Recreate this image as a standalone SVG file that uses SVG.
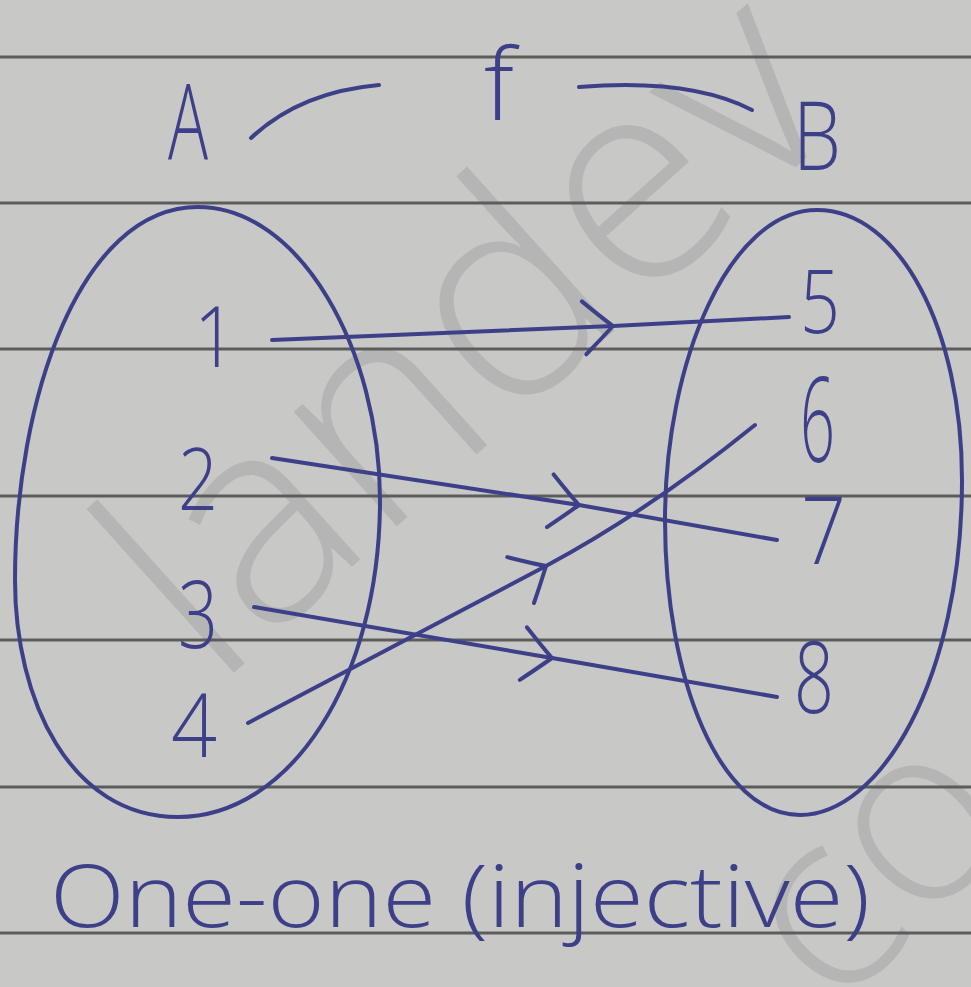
<svg xmlns="http://www.w3.org/2000/svg" width="971" height="987" viewBox="0 0 971 987">
<defs>
<style>
.paper{fill:#c8c8c7}
.rule{stroke:#5c5c5c;stroke-width:3;fill:none}
.ink{stroke:#3d4088;stroke-width:4;fill:none;stroke-linecap:round;stroke-linejoin:round}
.lbl{font-family:"Open Sans","Liberation Sans",sans-serif;font-weight:300;fill:#3d4088}
.wm{font-family:"Open Sans","Liberation Sans",sans-serif;font-weight:300;fill:#a4a4a4;opacity:0.5}
</style>
<marker id="chev" markerUnits="userSpaceOnUse" markerWidth="80" markerHeight="80" viewBox="-40 -40 80 80" refX="0" refY="0" orient="auto">
<path d="M -30 -26 Q -10 -8 0 0 Q -12 12 -28 27" fill="none" stroke="#3d4088" stroke-width="4" stroke-linecap="round"/>
</marker>
</defs>
<rect class="paper" x="0" y="0" width="971" height="987"/>
<g id="watermark">
<text class="wm" x="0" y="0" font-size="290" transform="translate(215,690) rotate(-42)">landev</text>
<text class="wm" x="0" y="0" font-size="250" transform="translate(835,1015) rotate(-45)">co</text>
</g>
<g id="rules">
<line class="rule" x1="0" y1="57" x2="971" y2="57"/>
<line class="rule" x1="0" y1="203" x2="971" y2="203"/>
<line class="rule" x1="0" y1="349" x2="971" y2="349"/>
<line class="rule" x1="0" y1="496" x2="971" y2="496"/>
<line class="rule" x1="0" y1="640" x2="971" y2="640"/>
<line class="rule" x1="0" y1="787" x2="971" y2="787"/>
<line class="rule" x1="0" y1="933" x2="971" y2="933"/>
</g>
<g id="title">
<text class="lbl" x="168" y="160" font-size="105" textLength="40" lengthAdjust="spacingAndGlyphs">A</text>
<text class="lbl" x="484" y="120" font-size="100" textLength="30" lengthAdjust="spacingAndGlyphs">f</text>
<text class="lbl" x="793" y="170" font-size="95" textLength="48" lengthAdjust="spacingAndGlyphs">B</text>
<path class="ink" d="M 251 138 Q 300 92 379 85"/>
<path class="ink" d="M 579 87 Q 690 78 752 110"/>
</g>
<g id="setA">
<path class="ink" d="M 198 207 C 300 207 380 350 380 500 C 380 680 290 817 178 817 C 70 817 15 700 15 580 C 15 400 80 207 198 207 Z"/>
</g>
<g id="setB">
<path class="ink" d="M 817 210 C 900 210 962 330 962 480 C 962 680 880 815 800 815 C 720 815 665 680 665 520 C 665 360 730 210 817 210 Z"/>
</g>
<g id="n1"><text class="lbl" x="194" y="367" font-size="84" textLength="42" lengthAdjust="spacingAndGlyphs">1</text></g>
<g id="n2"><text class="lbl" x="178" y="510" font-size="86" textLength="40" lengthAdjust="spacingAndGlyphs">2</text></g>
<g id="n3"><text class="lbl" x="178" y="648" font-size="94" textLength="40" lengthAdjust="spacingAndGlyphs">3</text></g>
<g id="n4"><text class="lbl" x="171" y="757" font-size="88" textLength="46" lengthAdjust="spacingAndGlyphs">4</text></g>
<g id="n5"><text class="lbl" x="800" y="333" font-size="88" textLength="40" lengthAdjust="spacingAndGlyphs">5</text></g>
<g id="n6"><text class="lbl" x="800" y="462" font-size="118" textLength="35" lengthAdjust="spacingAndGlyphs">6</text></g>
<g id="n7"><text class="lbl" x="801" y="564" font-size="94" textLength="45" lengthAdjust="spacingAndGlyphs">7</text></g>
<g id="n8"><text class="lbl" x="794" y="713" font-size="100" textLength="40" lengthAdjust="spacingAndGlyphs">8</text></g>
<g id="connectors">
<path class="ink" marker-mid="url(#chev)" d="M 272 340 L 613 326 L 789 317"/>
<path class="ink" marker-mid="url(#chev)" d="M 272 458 L 579 505 L 777 540"/>
<path class="ink" marker-mid="url(#chev)" d="M 254 607 L 552 658 L 777 697"/>
<path class="ink" marker-mid="url(#chev)" d="M 248 723 L 546 566 Q 650 510 755 425"/>
</g>
<g id="caption">
<text class="lbl" x="50" y="927" font-size="86" textLength="820" lengthAdjust="spacingAndGlyphs">One-one (injective)</text>
</g>
</svg>
